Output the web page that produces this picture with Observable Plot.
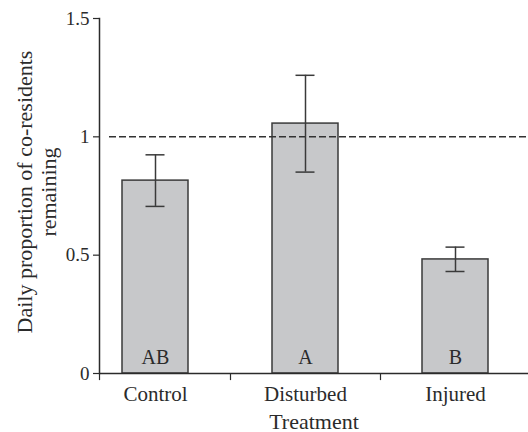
<!DOCTYPE html>
<html>
<head>
<meta charset="utf-8">
<script src="https://cdn.jsdelivr.net/npm/d3@7"></script>
<script src="https://cdn.jsdelivr.net/npm/@observablehq/plot@0.6"></script>
<style>
  body { margin: 0; background: #fff; }
  #chart svg { display: block; }
</style>
</head>
<body>
<div id="chart"></div>
<script>
const categories = ["Control", "Disturbed", "Injured"];
const means = [0.815, 1.056, 0.482];
const lower = [0.706, 0.851, 0.431];
const upper = [0.924, 1.260, 0.534];
const letters = ["AB", "A", "B"];
const yTicks = [0, 0.5, 1, 1.5];
const yTickLabels = ["0", "0.5", "1", "1.5"];
const refLine = [1];
const xTitle = "Treatment";
const yTitle = "Daily proportion of co-residents\nremaining";

const data = categories.map((c, i) => ({cat: c, mean: means[i], lo: lower[i], hi: upper[i], letter: letters[i]}));

const W = 528, H = 432;
const mL = 99, mR = 0, mT = 18, mB = 59;
const pi = 0.56, po = 0.21, align = 0.365;
const n = categories.length;
const step = (W - mL - mR) / (n - pi + 2 * po);
const bw = step * (1 - pi);
const firstOffset = (W - mL - mR - step * (n - pi)) * align + bw / 2;
const font = "'Liberation Serif', 'Times New Roman', serif";
const ink = "#2b2b2b";

const chart = Plot.plot({
  width: W, height: H,
  marginLeft: mL, marginRight: mR, marginTop: mT, marginBottom: mB,
  style: {fontFamily: font, background: "#fff", color: ink},
  x: {domain: categories, paddingInner: pi, paddingOuter: po, align: align, label: null},
  y: {domain: [0, 1.5], label: null},
  marks: [
    Plot.barY(data, {x: "cat", y: "mean", fill: "#c7c8ca", stroke: "#3a3a3a", strokeWidth: 1.5}),
    Plot.ruleY(refLine, {stroke: "#333", strokeWidth: 1.5, strokeDasharray: "7,3", insetLeft: 10}),
    Plot.ruleX(data, {x: "cat", y1: "lo", y2: "hi", stroke: "#3a3a3a", strokeWidth: 1.5}),
    Plot.tickY(data, {x: "cat", y: "hi", stroke: "#3a3a3a", strokeWidth: 1.5, insetLeft: (bw - 19) / 2, insetRight: (bw - 19) / 2}),
    Plot.tickY(data, {x: "cat", y: "lo", stroke: "#3a3a3a", strokeWidth: 1.5, insetLeft: (bw - 19) / 2, insetRight: (bw - 19) / 2}),
    Plot.text(data, {x: "cat", y: 0, text: "letter", dy: -10, lineAnchor: "bottom", fontSize: 20, fill: ink}),
    Plot.ruleY([0], {stroke: ink, strokeWidth: 1.5}),
    Plot.frame({anchor: "left", stroke: ink, strokeWidth: 1.5}),
    Plot.ruleX(categories.slice(0, -1), {x: d => d, y1: 0, y2: -0.03, dx: step / 2, stroke: ink, strokeWidth: 1.2}),
    Plot.ruleX(categories.slice(0, 1), {x: d => d, y1: 0, y2: -0.03, dx: -firstOffset, stroke: ink, strokeWidth: 1.2}),
    Plot.axisY({ticks: yTicks, tickFormat: (d) => yTickLabels[yTicks.indexOf(d)], tickSize: 6, tickPadding: 4, fontSize: 19, stroke: ink, strokeWidth: 1.2, label: null}),
    Plot.axisX({tickSize: 0, tickPadding: 13, fontSize: 21, label: null}),
    Plot.text([xTitle], {frameAnchor: "bottom", dy: 55, lineAnchor: "bottom", fontSize: 22, fill: ink}),
    Plot.text([yTitle], {frameAnchor: "left", dx: -63, dy: -4, rotate: -90, textAnchor: "middle", lineAnchor: "middle", lineHeight: 1.1, fontSize: 22, fill: ink})
  ]
});
document.getElementById("chart").appendChild(chart);
</script>
</body>
</html>
